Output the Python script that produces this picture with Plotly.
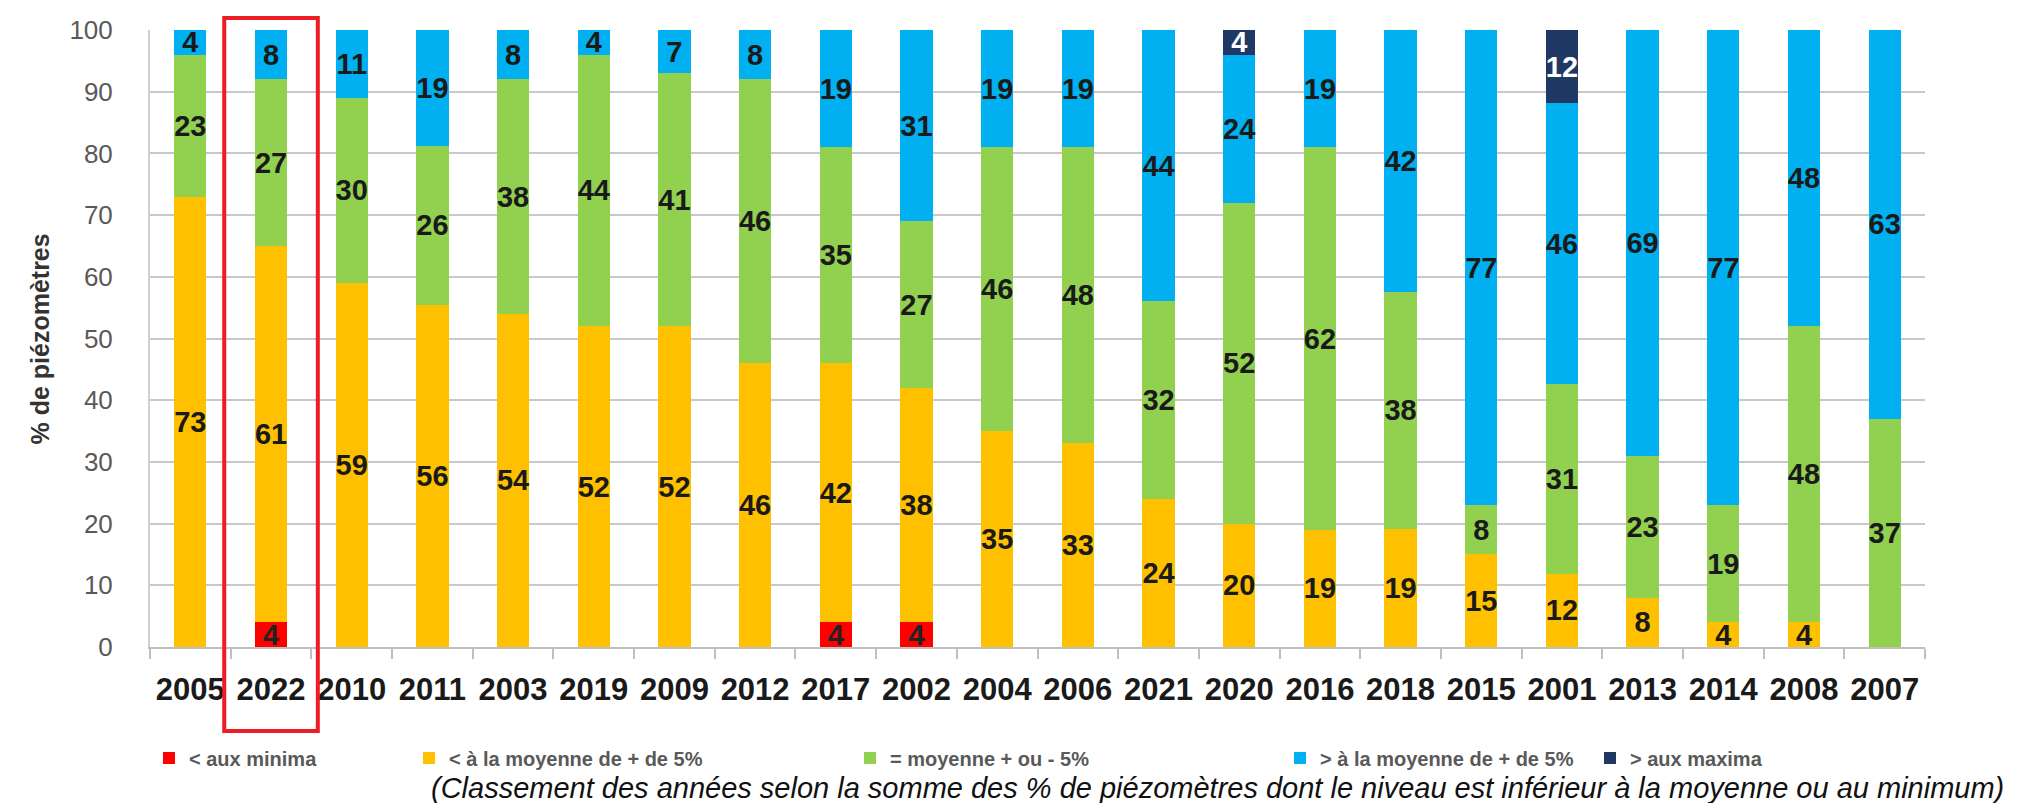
import plotly.graph_objects as go

# years ranked by share of piezometers below average / minimum
years = ["2005", "2022", "2010", "2011", "2003", "2019", "2009", "2012", "2017", "2002", "2004",
         "2006", "2021", "2020", "2016", "2018", "2015", "2001", "2013", "2014", "2008", "2007"]

aux_minima = [0, 4, 0, 0, 0, 0, 0, 0, 4, 4, 0, 0, 0, 0, 0, 0, 0, 0, 0, 0, 0, 0]
sous_moyenne = [73, 61, 59, 56, 54, 52, 52, 46, 42, 38, 35, 33, 24, 20, 19, 19, 15, 12, 8, 4, 4, 0]
moyenne = [23, 27, 30, 26, 38, 44, 41, 46, 35, 27, 46, 48, 32, 52, 62, 38, 8, 31, 23, 19, 48, 37]
sur_moyenne = [4, 8, 11, 19, 8, 4, 7, 8, 19, 31, 19, 19, 44, 24, 19, 42, 77, 46, 69, 77, 48, 63]
aux_maxima = [0, 0, 0, 0, 0, 0, 0, 0, 0, 0, 0, 0, 0, 4, 0, 0, 0, 12, 0, 0, 0, 0]

series = [
    ("< aux minima", aux_minima, "#FF0000", "#222222"),
    ("< à la moyenne de + de 5%", sous_moyenne, "#FFC000", "#1a1a1a"),
    ("= moyenne + ou - 5%", moyenne, "#92D050", "#1a1a1a"),
    ("> à la moyenne de + de 5%", sur_moyenne, "#00B0F0", "#1a1a1a"),
    ("> aux maxima", aux_maxima, "#203864", "#FFFFFF"),
]

FONT = "Liberation Sans, Arial, sans-serif"
PLOT_L, PLOT_R, PLOT_T, PLOT_B = 142, 1917, 22, 639
# left edge of each legend entry, in pixels
legend_px = [141, 401, 842, 1272, 1582]


def px_x(px):
    return (px - PLOT_L) / (PLOT_R - PLOT_L)


def px_y(py):
    return (PLOT_B - py) / (PLOT_B - PLOT_T)


fig = go.Figure()

for n, (name, vals, color, txtcolor) in enumerate(series):
    fig.add_trace(
        go.Bar(
            x=years,
            y=vals,
            name=name,
            marker=dict(color=color, line=dict(width=0)),
            text=[str(v) if v else "" for v in vals],
            textposition="inside",
            insidetextanchor="middle",
            constraintext="none",
            textangle=0,
            textfont=dict(family=FONT, size=29, color=txtcolor, weight="bold"),
            legend="legend" if n == 0 else f"legend{n + 1}",
            hoverinfo="skip",
        )
    )

legends = {}
for n, px in enumerate(legend_px):
    key = "legend" if n == 0 else f"legend{n + 1}"
    legends[key] = dict(
        x=px_x(px),
        y=px_y(750),
        xanchor="left",
        yanchor="middle",
        orientation="h",
        bgcolor="rgba(0,0,0,0)",
        font=dict(family=FONT, size=20, color="#595959", weight="bold"),
        itemwidth=30,
    )

# highlight box around 2022
i22 = years.index("2022")
fig.add_shape(
    type="rect",
    xref="x",
    yref="paper",
    x0=i22 - 0.58,
    x1=i22 + 0.58,
    y0=px_y(723),
    y1=px_y(10),
    line=dict(color="#EE1C25", width=4),
    layer="above",
)

fig.add_annotation(
    text="% de piézomètres",
    xref="paper",
    yref="paper",
    x=px_x(31),
    y=0.5,
    xanchor="center",
    yanchor="middle",
    textangle=-90,
    showarrow=False,
    font=dict(family=FONT, size=25, color="#333333", weight="bold"),
)

fig.add_annotation(
    text="(Classement des années selon la somme des % de piézomètres dont le niveau est inférieur à la moyenne ou au minimum)",
    xref="paper",
    yref="paper",
    x=px_x(421),
    y=px_y(780),
    xanchor="left",
    yanchor="middle",
    showarrow=False,
    font=dict(family=FONT, size=29, color="#111111", style="italic"),
)

fig.update_layout(
    width=2017,
    height=803,
    margin=dict(l=PLOT_L, r=2017 - PLOT_R, t=PLOT_T, b=803 - PLOT_B, autoexpand=False),
    barmode="stack",
    barnorm="percent",
    bargap=0.6,
    paper_bgcolor="white",
    plot_bgcolor="white",
    showlegend=True,
    xaxis=dict(
        type="category",
        automargin=False,
        tickangle=0,
        showline=True,
        linecolor="#BFBFBF",
        linewidth=2,
        ticks="outside",
        tickson="boundaries",
        ticklen=10,
        tickcolor="#BFBFBF",
        tickwidth=2,
        tickfont=dict(family=FONT, size=31, color="#1a1a1a", weight="bold"),
        ticklabelstandoff=14,
    ),
    yaxis=dict(
        range=[0, 100],
        dtick=10,
        automargin=False,
        showline=True,
        linecolor="#D0D0D0",
        linewidth=2,
        showgrid=True,
        gridcolor="#C8C8C8",
        gridwidth=2,
        zeroline=False,
        tickfont=dict(family=FONT, size=26, color="#595959"),
        ticks="outside",
        ticklen=0,
        ticklabelstandoff=30,
    ),
    **legends,
)

fig.write_html("out.html")
